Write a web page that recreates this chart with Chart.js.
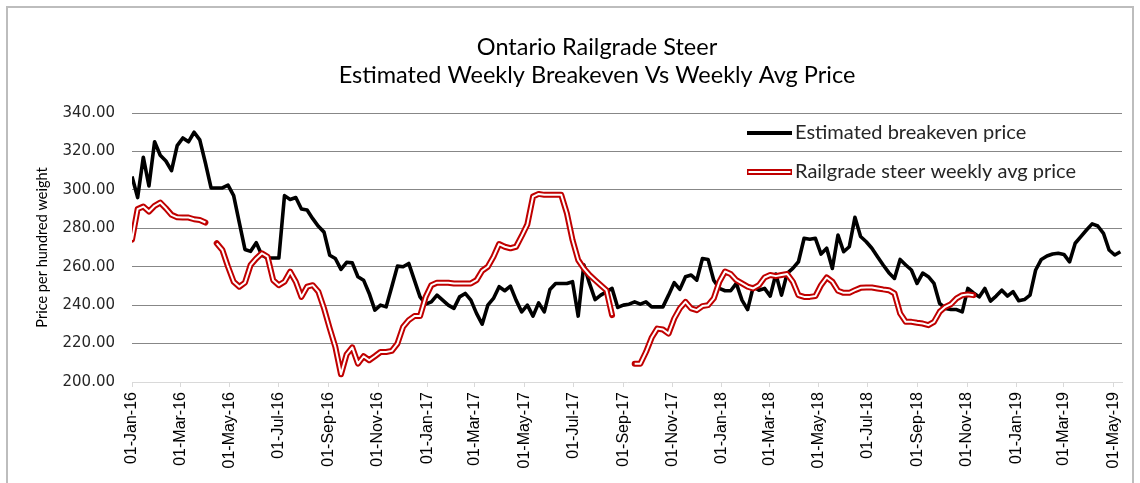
<!DOCTYPE html>
<html>
<head>
<meta charset="utf-8">
<script src="https://cdn.jsdelivr.net/npm/chart.js@4.4.1/dist/chart.umd.min.js"></script>
<style>
    html, body { margin: 0; padding: 0; background: #fff; overflow: hidden; }
    #wrap { position: relative; width: 1140px; height: 483px; }
    #frame { position: absolute; left: 6px; top: 6px; width: 1128px; height: 520px; border: 2px solid #bdbdbd; box-sizing: border-box; pointer-events: none; }
    canvas { position: absolute; left: 0; top: 0; }
</style>
</head>
<body>
<div id="wrap">
    <canvas id="steerChart" width="1140" height="483"></canvas>
    <div id="frame"></div>
</div>
<script>
// --- data (weekly, week 0 = 01-Jan-2016) ---
const titleLines = ['Ontario Railgrade Steer', 'Estimated Weekly Breakeven Vs Weekly Avg Price'];
const yTitle = 'Price per hundred weight';
const seriesNames = ['Estimated breakeven price', 'Railgrade steer weekly avg price'];

// x axis ticks: days after 01-Jan-2016
const tickDays = [0, 60, 121, 182, 244, 305, 366, 425, 486, 547, 609, 670, 731, 790, 851, 912, 974, 1035, 1096, 1155, 1216];
const tickLabels = ['01-Jan-16', '01-Mar-16', '01-May-16', '01-Jul-16', '01-Sep-16', '01-Nov-16',
    '01-Jan-17', '01-Mar-17', '01-May-17', '01-Jul-17', '01-Sep-17', '01-Nov-17',
    '01-Jan-18', '01-Mar-18', '01-May-18', '01-Jul-18', '01-Sep-18', '01-Nov-18',
    '01-Jan-19', '01-Mar-19', '01-May-19'];

const breakeven = [
    307, 296, 317, 302, 325, 318, 315, 310, 323, 327,
    325, 330, 326, 314, 301, 301, 301, 302.5, 297, 283,
    269, 268, 272.5, 266, 264.5, 264.5, 264.5, 297, 295, 296,
    290, 289.5, 285, 281, 278, 266, 264.3, 258.6, 262.3, 262,
    254.8, 253, 246.1, 237.4, 240, 239.1, 249.6, 260.3, 260, 261.7,
    253, 244.3, 240.5, 241.7, 245.2, 242.6, 240, 238.3, 244.3, 246.1,
    242.6, 235.7, 230.1, 240, 243.5, 249.6, 247.5, 249.9, 242.6, 236.5,
    240, 234.3, 241.2, 236.5, 248.2, 251.3, 251.3, 251.3, 252.2, 234.3,
    261, 251.3, 242.9, 245.2, 247, 248.7, 238.8, 240, 240.5, 241.7,
    240.5, 241.7, 239.1, 239.1, 239.1, 245.2, 251.7, 248.2, 254.8, 255.7,
    253, 264.3, 263.8, 253, 248.7, 247.5, 247.5, 251.3, 242.6, 237.7,
    249.6, 247.8, 248.7, 244.7, 256.2, 245.2, 256.5, 259.1, 262.6, 274.8,
    274.3, 274.8, 266.6, 269.6, 259.1, 276.5, 267.8, 270.4, 285.7, 275.7,
    273, 269.6, 265.2, 260.9, 256.9, 253.9, 263.8, 260.9, 258.3, 251.3,
    256.7, 254.8, 251.3, 240.9, 238.3, 237.7, 237.7, 236.5, 248.7, 246.4,
    244.3, 248.7, 242.1, 244.7, 247.8, 244.7, 247, 242.3, 242.9, 245.2,
    258.3, 263.8, 265.6, 266.6, 267, 266.4, 262.5, 272.2, 275.7, 279.1,
    282.3, 281.2, 277.4, 268.7, 266.1, 267.8
];

const railgrade = [
    274, 290, 291.3, 288.7, 291.7, 293.4, 290.4, 287, 285.7, 285.6,
    285.6, 284.7, 284.3, 283, null, 272.2, 268.7, 260, 252.2, 249.6,
    251.7, 260.9, 264.3, 267, 265.2, 253, 250.4, 252.2, 257.4, 252.2,
    244.3, 249.6, 250.4, 247, 238.3, 228, 218.3, 204, 214.4, 218,
    209.6, 213.4, 211.3, 213.4, 215.6, 215.6, 216.2, 220, 228.7, 232.2,
    234.3, 234.3, 244.3, 250.4, 251.7, 251.7, 251.7, 251.3, 251.3, 251.3,
    251.3, 253, 257.9, 260, 265.2, 271.8, 270.4, 269.6, 270.4, 276,
    282, 296.5, 297.9, 297.4, 297.4, 297.4, 297.4, 287.8, 273.9, 263.5,
    259.1, 255.7, 253, 250.4, 247.8, 234.8, null, null, null, 209.5,
    209.5, 215.6, 223, 227.8, 227.3, 225.2, 233, 238.3, 241.7, 238.3,
    237.4, 239.5, 240, 243.5, 252.2, 257.5, 256.2, 253, 251.3, 249.6,
    248.7, 250.4, 254.4, 255.7, 255.1, 255.7, 256.2, 252.2, 245.2, 244.3,
    244.3, 244.7, 250.4, 254.4, 252.2, 247.5, 246.4, 246.4, 247.8, 249,
    249.2, 249.2, 248.7, 248.2, 247.8, 246.1, 235.7, 231.3, 231.3, 230.8,
    230.4, 229.6, 231.3, 236.5, 239.1, 240.5, 243.5, 245.2, 245.6, 245.2
];

// 주 단위 -> x (일)
const toPoints = arr => arr.map((v, i) => ({ x: i * 7, y: v }));

// --- title and legend drawn by hand (Excel places them off-centre) ---
const chartText = {
    id: 'chartText',
    afterDatasetsDraw(chart) {
        const ctx = chart.ctx;
        ctx.save();

        // title
        ctx.font = '23.5px Lato';
        ctx.fillStyle = '#000';
        ctx.textAlign = 'center';
        ctx.textBaseline = 'middle';
        titleLines.forEach((line, i) => ctx.fillText(line, 597, 47 + i * 28));

        // legend
        const x0 = 747, x1 = 792, tx = 795;
        const rows = [133, 172];
        ctx.lineCap = 'butt';
        ctx.strokeStyle = '#000';
        ctx.lineWidth = 4;
        ctx.beginPath(); ctx.moveTo(x0, rows[0]); ctx.lineTo(x1, rows[0]); ctx.stroke();
        ctx.strokeStyle = '#c00000';
        ctx.lineWidth = 6;
        ctx.beginPath(); ctx.moveTo(x0, rows[1]); ctx.lineTo(x1, rows[1]); ctx.stroke();
        ctx.strokeStyle = '#fff';
        ctx.lineWidth = 2;
        ctx.beginPath(); ctx.moveTo(x0 + 1.5, rows[1]); ctx.lineTo(x1 - 1.5, rows[1]); ctx.stroke();

        ctx.font = '20px Lato';
        ctx.fillStyle = '#262626';
        ctx.textAlign = 'left';
        seriesNames.forEach((name, i) => ctx.fillText(name, tx, rows[i]));
        ctx.restore();
    }
};

const ctx = document.getElementById('steerChart').getContext('2d');
new Chart(ctx, {
    type: 'line',
    data: {
        datasets: [{
            label: seriesNames[1] + ' (inner)',
            data: toPoints(railgrade),
            borderColor: '#ffffff',
            borderWidth: 2,
            pointRadius: 0,
            tension: 0,
            spanGaps: false,
            borderJoinStyle: 'round',
            order: 0
        }, {
            label: seriesNames[1],
            data: toPoints(railgrade),
            borderColor: '#c00000',
            borderWidth: 6,
            pointRadius: 0,
            tension: 0,
            spanGaps: false,
            borderJoinStyle: 'round',
            borderCapStyle: 'round',
            order: 1
        }, {
            label: seriesNames[0],
            data: toPoints(breakeven),
            borderColor: '#000000',
            borderWidth: 3.6,
            pointRadius: 0,
            tension: 0,
            borderJoinStyle: 'round',
            order: 2
        }]
    },
    options: {
        responsive: false,
        animation: false,
        devicePixelRatio: 1,
        layout: { padding: { left: 0, right: 18, top: 113, bottom: 0 } },
        plugins: {
            legend: { display: false },
            tooltip: { enabled: false },
            title: { display: false }
        },
        scales: {
            x: {
                type: 'linear',
                min: 0,
                max: 1227,
                afterBuildTicks: scale => { scale.ticks = tickDays.map(v => ({ value: v })); },
                afterFit: scale => { scale.height = 101; },
                ticks: {
                    autoSkip: false,
                    minRotation: 90,
                    maxRotation: 90,
                    padding: 5,
                    color: '#000',
                    font: { family: 'Liberation Sans', size: 16 },
                    callback: v => tickLabels[tickDays.indexOf(v)]
                },
                grid: { drawOnChartArea: false, drawTicks: true, tickLength: 5, color: '#d9d9d9' },
                border: { color: '#d9d9d9', width: 1 }
            },
            y: {
                min: 200,
                max: 340,
                afterFit: scale => { scale.width = 132; },
                ticks: {
                    stepSize: 20,
                    padding: 17,
                    color: '#262626',
                    font: { family: 'DejaVu Sans', size: 15 },
                    callback: v => v.toFixed(2)
                },
                grid: {
                    drawTicks: false,
                    color: c => (c.tick && c.tick.value === 200) ? 'rgba(0,0,0,0)' : '#878787',
                    lineWidth: 1
                },
                border: { display: false },
                title: {
                    display: true,
                    text: yTitle,
                    color: '#000',
                    font: { family: 'Lato', size: 14.5 },
                    padding: { top: 34, bottom: 0 }
                }
            }
        }
    },
    plugins: [chartText]
});
</script>
</body>
</html>
